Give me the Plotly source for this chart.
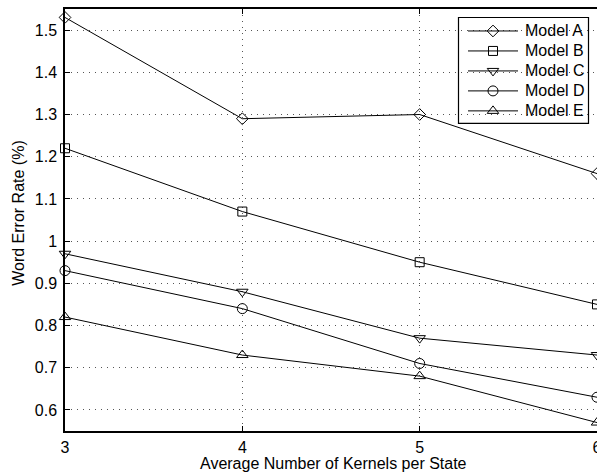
import plotly.graph_objects as go

kernels = [3, 4, 5, 6]
model_names = ["Model A", "Model B", "Model C", "Model D", "Model E"]
model_a = [1.53, 1.29, 1.30, 1.16]
model_b = [1.22, 1.07, 0.95, 0.85]
model_c = [0.97, 0.88, 0.77, 0.73]
model_d = [0.93, 0.84, 0.71, 0.63]
model_e = [0.82, 0.73, 0.68, 0.57]
y_ticks = [0.6, 0.7, 0.8, 0.9, 1.0, 1.1, 1.2, 1.3, 1.4, 1.5]
y_tick_labels = ["0.6", "0.7", "0.8", "0.9", "1", "1.1", "1.2", "1.3", "1.4", "1.5"]
x_ticks = [3, 4, 5, 6]

series = [model_a, model_b, model_c, model_d, model_e]
symbols = ["diamond-open", "square-open", "triangle-down-open", "circle-open", "triangle-up-open"]
sizes = [9, 9, 10, 10, 10]

FONT = "Liberation Sans, Arial, Helvetica, sans-serif"
W, H = 597, 473
L, R, T, B = 65, 0, 9, 41.5

fig = go.Figure()
for name, vals, sym, sz in zip(model_names, series, symbols, sizes):
    fig.add_trace(go.Scatter(
        x=kernels, y=vals, mode="lines+markers", name=name,
        line=dict(color="black", width=1),
        marker=dict(symbol=sym, size=sz, color="black", line=dict(color="black", width=1)),
        cliponaxis=False, showlegend=False,
    ))

# Manual legend drawn on an overlay axis measured in pixels
leg_x0, leg_x1, leg_y0, leg_y1 = 458.5, 588.5, 17.5, 123.5
for i, (name, sym, sz) in enumerate(zip(model_names, symbols, sizes)):
    yy = 31 + 20 * i
    fig.add_trace(go.Scatter(
        x=[468, 518], y=[yy, yy], mode="lines", xaxis="x2", yaxis="y2",
        line=dict(color="black", width=1), showlegend=False, hoverinfo="skip",
    ))
    fig.add_trace(go.Scatter(
        x=[493], y=[yy], mode="markers", xaxis="x2", yaxis="y2",
        marker=dict(symbol=sym, size=sz, color="black", line=dict(color="black", width=1)),
        showlegend=False, hoverinfo="skip",
    ))
    fig.add_annotation(x=522.5, y=yy, xref="x2", yref="y2", text=name, showarrow=False,
                       xanchor="left", yanchor="middle", font=dict(family=FONT, size=16, color="black"))

fig.add_shape(type="rect", xref="x2", yref="y2", x0=leg_x0, x1=leg_x1, y0=leg_y0, y1=leg_y1,
              line=dict(color="black", width=1.2), fillcolor="white", layer="below")

plot_w = W - L - R
plot_h = H - T - B

fig.add_annotation(x=(333.5 - L) / plot_w, y=(H - B - 464) / plot_h, xref="paper", yref="paper",
                   text="Average Number of Kernels per State", showarrow=False,
                   xanchor="center", yanchor="middle", font=dict(family=FONT, size=16, color="black"))
fig.add_annotation(x=(18.5 - L) / plot_w, y=(H - B - 213.5) / plot_h, xref="paper", yref="paper",
                   text="Word Error Rate (%)", showarrow=False, textangle=-90,
                   xanchor="center", yanchor="middle", font=dict(family=FONT, size=16, color="black"))

fig.update_layout(
    width=W, height=H,
    margin=dict(l=L, r=R, t=T, b=B, pad=0, autoexpand=False),
    paper_bgcolor="white", plot_bgcolor="white",
    font=dict(family=FONT, size=16, color="black"),
    showlegend=False,
    xaxis=dict(
        range=[3, 6], tickvals=x_ticks, ticktext=[str(v) for v in x_ticks],
        showline=True, linecolor="black", linewidth=1.5, mirror="ticks",
        ticks="inside", ticklen=5, tickcolor="black", tickwidth=1,
        showgrid=True, gridcolor="#555", gridwidth=1, griddash="1px,5px",
        zeroline=False, ticklabelstandoff=1, ticklabeloverflow="allow",
        automargin=False,
        tickfont=dict(family=FONT, size=16, color="black"),
    ),
    yaxis=dict(
        range=[0.55, 1.55], tickvals=y_ticks, ticktext=y_tick_labels,
        showline=True, linecolor="black", linewidth=1.5, mirror=False,
        ticks="inside", ticklen=5, tickcolor="black", tickwidth=1,
        showgrid=True, gridcolor="#555", gridwidth=1, griddash="1px,5px",
        zeroline=False, ticklabelstandoff=3, automargin=False,
        tickfont=dict(family=FONT, size=16, color="black"),
    ),
    xaxis2=dict(range=[L, W - R], overlaying="x", visible=False, fixedrange=True),
    yaxis2=dict(range=[H - B, T], overlaying="y", visible=False, fixedrange=True),
)

fig.write_html(
    "out.html",
    config={"displayModeBar": False},
    post_script="document.body.style.margin='0';document.body.style.overflow='hidden';",
)
